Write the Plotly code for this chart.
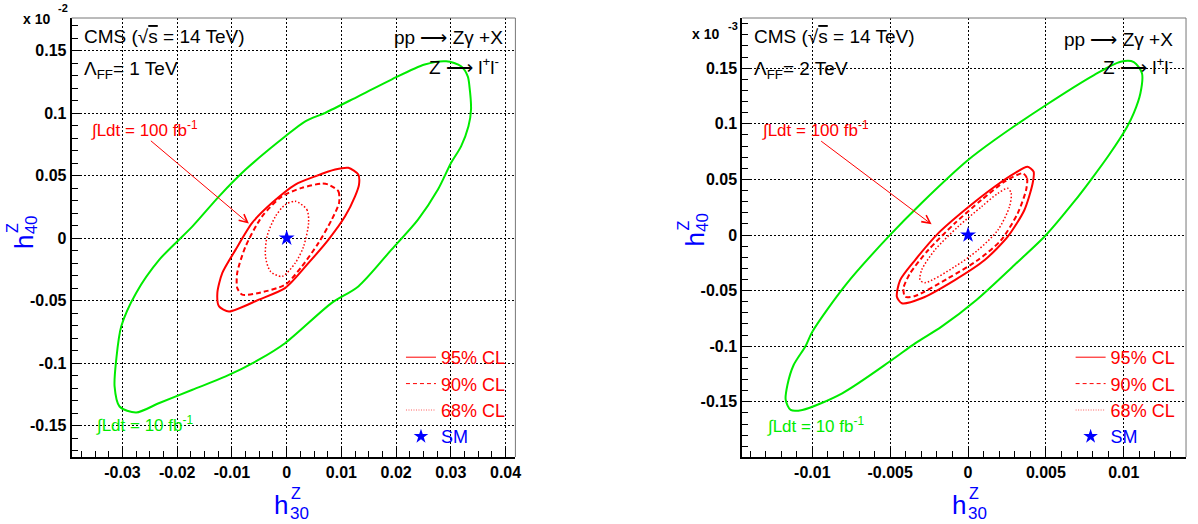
import plotly.graph_objects as go

# ------------------------------------------------------------------
# Data (values in units of 10^-2 for left panel, 10^-3 for right panel)
# ------------------------------------------------------------------
# Left panel: Lambda_FF = 1 TeV
L_green_x = [0.02915, 0.03187, 0.03309, 0.0334, 0.03369, 0.03322, 0.03187, 0.03005, 0.02764,
             0.024, 0.01915, 0.01309, 0.00824, -0.00024, -0.00509, -0.01115, -0.01722,
             -0.02327, -0.02751, -0.03055, -0.03145, -0.03115, -0.03024, -0.02751, -0.02327,
             -0.01722, -0.01236, -0.00751, -0.00024, 0.0034, 0.00704, 0.01309, 0.01915, 0.02522]
L_green_y = [0.1414, 0.1374, 0.1294, 0.1214, 0.1028, 0.0894, 0.0734, 0.0602, 0.0388,
             0.0148, -0.0092, -0.0386, -0.0518, -0.0838, -0.0972, -0.1106, -0.1212,
             -0.1318, -0.1394, -0.1346, -0.1186, -0.0972, -0.0706, -0.0438, -0.0172,
             0.0094, 0.0334, 0.0548, 0.0814, 0.0934, 0.1002, 0.1134, 0.1268, 0.1388]

L_cl95_x = [0.01127, 0.01309, 0.01322, 0.01249, 0.01067, 0.00764, 0.004, -0.00024, -0.00509,
            -0.01055, -0.01236, -0.01267, -0.01176, -0.00933, -0.00631, -0.00267, 0.00158,
            0.00522, 0.00885]
L_cl95_y = [0.0562, 0.0508, 0.0428, 0.0334, 0.0174, -0.0012, -0.0198, -0.0398, -0.0492,
            -0.0586, -0.0546, -0.0438, -0.0278, -0.0092, 0.0122, 0.0282, 0.0428,
            0.0494, 0.0548]

L_cl90_x = [0.00764, 0.00945, 0.00958, 0.00824, 0.00582, 0.00278, -0.00024, -0.00509,
            -0.00813, -0.00904, -0.00904, -0.00751, -0.00449, -0.00085, 0.00278, 0.00642]
L_cl90_y = [0.0428, 0.0374, 0.0282, 0.0148, -0.0038, -0.0226, -0.0372, -0.0438,
            -0.0452, -0.0398, -0.0278, -0.0066, 0.0174, 0.0334, 0.0402, 0.0436]

L_cl68_x = [0.00158, 0.00369, 0.004, 0.00309, 0.00158, -0.00085, -0.00296, -0.00387,
            -0.00358, -0.00205, -0.00024]
L_cl68_y = [0.0294, 0.0228, 0.0122, -0.0066, -0.0198, -0.0306, -0.0266, -0.0146,
            0.0014, 0.0174, 0.0268]

# Right panel: Lambda_FF = 2 TeV
R_green_x = [0.0098, 0.01065, 0.01117, 0.01107, 0.01065, 0.01022, 0.00905, 0.00788, 0.00681,
             0.00501, 0.00298, 0.00054, -0.0017, -0.0034, -0.00489, -0.00808, -0.01064,
             -0.01139, -0.01171, -0.0116, -0.0112, -0.01043, -0.01, -0.00787, -0.00511,
             -0.00298, 0.0, 0.0017, 0.00501, 0.00809]
R_green_y = [0.1558, 0.1555, 0.1454, 0.1274, 0.1097, 0.0974, 0.0719, 0.0494, 0.0299,
             0.0, -0.027, -0.0584, -0.0824, -0.0974, -0.1124, -0.1423, -0.1573,
             -0.1573, -0.1483, -0.1349, -0.1169, -0.0998, -0.0869, -0.045, -0.0015,
             0.0288, 0.0674, 0.0854, 0.1169, 0.1438]

R_cl95_x = [0.00383, 0.00421, 0.00415, 0.00362, 0.00255, 0.00107, -0.00085, -0.00298,
            -0.00425, -0.00457, -0.00436, -0.0034, -0.00192, -0.00021, 0.0017, 0.00298]
R_cl95_y = [0.0614, 0.0569, 0.0465, 0.0225, -0.0015, -0.0225, -0.0405, -0.0569,
            -0.0614, -0.0555, -0.0405, -0.0225, 0.0015, 0.0225, 0.0434, 0.0555]

R_cl90_x = [0.00351, 0.00379, 0.00373, 0.00319, 0.00213, 0.00064, -0.00128, -0.0034,
            -0.00404, -0.00415, -0.00372, -0.00255, -0.00085, 0.00086, 0.00234]
R_cl90_y = [0.0555, 0.051, 0.0405, 0.0195, -0.0045, -0.0225, -0.0389, -0.0548,
            -0.0555, -0.0479, -0.0344, -0.0135, 0.0105, 0.0315, 0.0479]

R_cl68_x = [0.00255, 0.00277, 0.00266, 0.00192, 0.00064, -0.00085, -0.00277, -0.00308,
            -0.00298, -0.00213, -0.00064, 0.00086, 0.00192]
R_cl68_y = [0.042, 0.0375, 0.0254, 0.0045, -0.0135, -0.0285, -0.0429, -0.0405,
            -0.0315, -0.0135, 0.0075, 0.0254, 0.0375]

SM_x = [0.0]
SM_y = [0.0]

# Tick labels
L_xticks = [-0.03, -0.02, -0.01, 0.0, 0.01, 0.02, 0.03, 0.04]
L_xticktext = ["-0.03", "-0.02", "-0.01", "0", "0.01", "0.02", "0.03", "0.04"]
R_xticks = [-0.01, -0.005, 0.0, 0.005, 0.01]
R_xticktext = ["-0.01", "-0.005", "0", "0.005", "0.01"]
Y_ticks = [-0.15, -0.1, -0.05, 0.0, 0.05, 0.1, 0.15]
Y_ticktext = ["-0.15", "-0.1", "-0.05", "0", "0.05", "0.1", "0.15"]

# Arrow endpoints (data coords): tail -> tip
L_arrow = dict(tail=(-0.02509, 0.0788), tip=(-0.00691, 0.0116))
R_arrow = dict(tail=(-0.00953, 0.0854), tip=(-0.00234, 0.0096))

# ------------------------------------------------------------------
W, H = 1198, 524
FONT = "Liberation Sans, Arial, Helvetica, sans-serif"
RED = "rgb(255,0,0)"
GREEN = "rgb(0,235,0)"
BLUE = "rgb(0,0,255)"


def pxx(x):
    return x / W


def pyy(y):
    return 1 - y / H


def closed(v):
    return list(v) + [v[0]]


fig = go.Figure()


def add_panel(xa, ya, leg, gx, gy, c95x, c95y, c90x, c90y, c68x, c68y):
    fig.add_trace(go.Scatter(x=closed(gx), y=closed(gy), mode="lines", xaxis=xa, yaxis=ya,
                             line=dict(color=GREEN, width=2, shape="spline", smoothing=0.8),
                             showlegend=False, hoverinfo="skip"))
    fig.add_trace(go.Scatter(x=closed(c95x), y=closed(c95y), mode="lines", xaxis=xa, yaxis=ya,
                             showlegend=False,
                             line=dict(color=RED, width=2, shape="spline", smoothing=0.7)))
    fig.add_trace(go.Scatter(x=closed(c90x), y=closed(c90y), mode="lines", xaxis=xa, yaxis=ya,
                             showlegend=False,
                             line=dict(color=RED, width=2, dash="5px,3px", shape="spline", smoothing=0.7)))
    fig.add_trace(go.Scatter(x=closed(c68x), y=closed(c68y), mode="lines", xaxis=xa, yaxis=ya,
                             showlegend=False,
                             line=dict(color=RED, width=1.5, dash="1.5px,2px", shape="spline", smoothing=0.8)))
    fig.add_trace(go.Scatter(x=SM_x, y=SM_y, mode="markers", xaxis=xa, yaxis=ya,
                             showlegend=False, marker=dict(symbol="star", size=12, color=BLUE)))
    # legend keys (thin lines as in the original key)
    for name, dash, col in (("95% CL", "solid", RED), ("90% CL", "4px,3px", RED),
                            ("68% CL", "1px,1.5px", "rgb(255,90,90)")):
        fig.add_trace(go.Scatter(x=[None], y=[None], mode="lines", xaxis=xa, yaxis=ya,
                                 name=name, legend=leg, line=dict(color=col, width=1, dash=dash)))
    fig.add_trace(go.Scatter(x=[None], y=[None], mode="markers", xaxis=xa, yaxis=ya,
                             name='<span style="color:rgb(0,0,255)">SM</span>', legend=leg,
                             marker=dict(symbol="star", size=11, color=BLUE)))


add_panel("x", "y", "legend", L_green_x, L_green_y, L_cl95_x, L_cl95_y,
          L_cl90_x, L_cl90_y, L_cl68_x, L_cl68_y)
add_panel("x2", "y2", "legend2", R_green_x, R_green_y, R_cl95_x, R_cl95_y,
          R_cl90_x, R_cl90_y, R_cl68_x, R_cl68_y)

tickfont = dict(family=FONT, size=16, color="black", weight="bold")


def axis(domain, rng, tv, tt, minor_dt, anchor):
    return dict(domain=domain, range=rng, anchor=anchor, tickmode="array", tickvals=tv, ticktext=tt,
                ticks="inside", ticklen=10, tickwidth=1, tickcolor="black",
                showline=True, linecolor="black", linewidth=2, mirror=False,
                showgrid=True, gridcolor="black", gridwidth=1, griddash="2px,2px",
                zeroline=False, tickfont=tickfont,
                minor=dict(dtick=minor_dt, tick0=0, ticks="inside", ticklen=6,
                           tickcolor="black", tickwidth=1, showgrid=False))


ydom = [1 - 457 / H, 1 - 18 / H]
legfont = dict(family=FONT, size=18, color=RED)
fig.update_layout(
    width=W, height=H, margin=dict(l=0, r=0, t=0, b=0), autosize=False,
    paper_bgcolor="white", plot_bgcolor="white",
    font=dict(family=FONT),
    xaxis=axis([72 / W, 518 / W], [-0.0393, 0.0418], L_xticks, L_xticktext, 0.0025, "y"),
    yaxis=axis(ydom, [-0.175, 0.176], Y_ticks, Y_ticktext, 0.01, "x"),
    xaxis2=axis([746 / W, 1192 / W], [-0.0145, 0.014], R_xticks, R_xticktext, 0.001, "y2"),
    yaxis2=axis(ydom, [-0.1996, 0.1951], Y_ticks, Y_ticktext, 0.01, "x2"),
    legend=dict(x=pxx(403), y=pyy(339), xanchor="left", yanchor="top",
                bgcolor="rgba(0,0,0,0)", font=legfont, tracegroupgap=0),
    legend2=dict(x=pxx(1076), y=pyy(339), xanchor="left", yanchor="top",
                 bgcolor="rgba(0,0,0,0)", font=legfont, tracegroupgap=0),
)

# grey top/right frame
shapes = []
for xr, yr in (("x domain", "y domain"), ("x2 domain", "y2 domain")):
    shapes.append(dict(type="line", xref=xr, yref=yr, x0=0, x1=1, y0=1, y1=1,
                       line=dict(color="#777777", width=1)))
    shapes.append(dict(type="line", xref=xr, yref=yr, x0=1, x1=1, y0=0, y1=1,
                       line=dict(color="#777777", width=1)))
fig.update_layout(shapes=shapes)

anns = []


def txt(text, x, y, size, color="black", xanchor="left", yanchor="middle", angle=0, bold=False):
    f = dict(family=FONT, size=size, color=color)
    if bold:
        f["weight"] = "bold"
    anns.append(dict(text=text, x=pxx(x), y=pyy(y), xref="paper", yref="paper",
                     xanchor=xanchor, yanchor=yanchor, showarrow=False, font=f,
                     textangle=angle, borderpad=0))


SQRT = '(\u221a<span style="text-decoration:overline">s</span> = 14 TeV)'
ARROW = "\u27f6"
for off, lam, mult, mx, my, ex, ey in ((0, "1", "-2", 37, 19, 63, 8),
                                        (674, "2", "-3", 709, 34, 737, 26)):
    txt("CMS " + SQRT, 83 + off, 37, 19)
    txt("\u039b<sub>FF</sub>= " + lam + " TeV", 83 + off, 70, 19)
    txt("x 10", mx, my, 14, xanchor="center", bold=True)
    txt(mult, ex, ey, 11, xanchor="center", bold=True)

txt("pp " + ARROW + " Z\u03b3 +X", 507, 38, 19, xanchor="right")
txt("Z " + ARROW + " l<sup>+</sup>l<sup>-</sup>", 503, 66, 19, xanchor="right")
txt("pp " + ARROW + " Z\u03b3 +X", 1180, 39, 19, xanchor="right")
txt("Z " + ARROW + " l<sup>+</sup>l<sup>-</sup>", 1180, 66, 19, xanchor="right")

txt("\u222bLdt = 100 fb<sup>-1</sup>", 90, 129, 17, color=RED)
txt("\u222bLdt = 10 fb<sup>-1</sup>", 95, 424, 17, color=GREEN)
txt("\u222bLdt = 100 fb<sup>-1</sup>", 765, 129, 17, color=RED)
txt("\u222bLdt = 10 fb<sup>-1</sup>", 770, 425, 17, color=GREEN)

# axis titles h^Z_30 and h^Z_40 built from pieces
for hx, yx, yc in ((283, 24, 242), (965, 698, 240)):
    # x title
    txt("h", hx + 7, 505, 26, color=BLUE, xanchor="right")
    txt("Z", hx + 8, 493, 16, color=BLUE, xanchor="left")
    txt("30", hx + 7, 513, 17, color=BLUE, xanchor="left")
    # y title (rotated, reads bottom to top)
    txt("h", yx, yc, 26, color=BLUE, xanchor="center", yanchor="middle", angle=-90)
    txt("Z", yx - 12, yc - 8, 16, color=BLUE, xanchor="center", yanchor="bottom", angle=-90)
    txt("40", yx + 8, yc - 7, 17, color=BLUE, xanchor="center", yanchor="bottom", angle=-90)

for arr, xr, yr in ((L_arrow, "x", "y"), (R_arrow, "x2", "y2")):
    anns.append(dict(text="", x=arr["tip"][0], y=arr["tip"][1], ax=arr["tail"][0], ay=arr["tail"][1],
                     xref=xr, yref=yr, axref=xr, ayref=yr, showarrow=True, arrowhead=5,
                     arrowsize=1.6, arrowwidth=1, arrowcolor=RED, standoff=0, startstandoff=0))

fig.update_layout(annotations=anns)

fig.write_html("out.html")
